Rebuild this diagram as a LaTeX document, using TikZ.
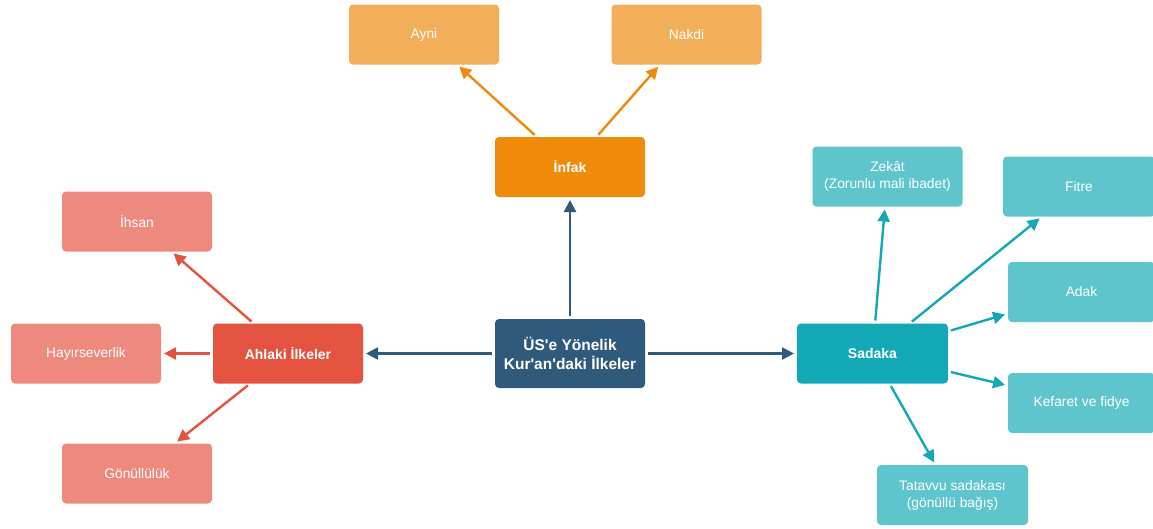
\documentclass[tikz,border=0pt]{standalone}
\usepackage{fontspec}
\setmainfont{Liberation Sans}
\usetikzlibrary{arrows.meta}

\definecolor{hubblue}{RGB}{47,90,123}
\definecolor{infakorange}{RGB}{239,138,10}
\definecolor{infaklight}{RGB}{243,174,90}
\definecolor{ahlakired}{RGB}{228,83,63}
\definecolor{ahlakilight}{RGB}{238,138,125}
\definecolor{sadakateal}{RGB}{18,168,182}
\definecolor{sadakalight}{RGB}{94,197,204}

\tikzset{
  box/.style={rectangle, rounded corners=4pt, minimum width=150pt, minimum height=60pt,
    text=white, align=center, inner sep=2pt, outer sep=0pt},
  mainbox/.style={box, font=\fontsize{14}{16}\selectfont\bfseries},
  leafbox/.style={box, font=\fontsize{13.8}{17}\selectfont},
  link/.style={line width=2.4pt, shorten <=3pt, shorten >=3pt,
    -{Triangle[length=12pt,width=12pt]}},
}

\begin{document}
\begin{tikzpicture}[x=1pt,y=-1pt]
\useasboundingbox[fill=white] (0,0) rectangle (1153,528);

% hub
\node[mainbox, fill=hubblue, minimum height=69pt, font=\fontsize{15.5}{19.5}\selectfont\bfseries]
  (hub) at (570,353.5) {ÜS\textquotesingle e Yönelik\\Kur\textquotesingle an\textquotesingle daki İlkeler};

% Infak branch
\node[mainbox, fill=infakorange] (infak) at (570,167) {İnfak};
\node[leafbox, fill=infaklight] (ayni) at (424,34.5) {Ayni};
\node[leafbox, fill=infaklight] (nakdi) at (686.5,34.5) {Nakdi};

% Ahlaki branch
\node[mainbox, fill=ahlakired] (ahlaki) at (288,353.5) {Ahlaki İlkeler};
\node[leafbox, fill=ahlakilight] (ihsan) at (137,221.5) {İhsan};
\node[leafbox, fill=ahlakilight] (hayir) at (86,353.5) {Hayırseverlik};
\node[leafbox, fill=ahlakilight] (gonul) at (137,473.5) {Gönüllülük};

% Sadaka branch
\node[mainbox, fill=sadakateal, minimum width=151pt] (sadaka) at (872.5,353.5) {Sadaka};
\node[leafbox, fill=sadakalight] (zekat) at (887.5,176.5) {Zekât\\(Zorunlu mali ibadet)};
\node[leafbox, fill=sadakalight, minimum width=152pt] (fitre) at (1079,186.5) {Fitre};
\node[leafbox, fill=sadakalight, minimum width=147pt] (adak) at (1081.5,292) {Adak};
\node[leafbox, fill=sadakalight, minimum width=147pt] (kefaret) at (1081.5,403) {Kefaret ve fidye};
\node[leafbox, fill=sadakalight, minimum width=151pt] (tatavvu) at (952.5,495) {Tatavvu sadakası\\(gönüllü bağış)};

% connectors
\draw[link, hubblue] (hub) -- (infak);
\draw[link, hubblue] (hub) -- (ahlaki);
\draw[link, hubblue] (hub) -- (sadaka);

\draw[link, infakorange] (infak) -- (ayni);
\draw[link, infakorange] (infak) -- (nakdi);

\draw[link, ahlakired] (ahlaki) -- (ihsan);
\draw[link, ahlakired] (ahlaki) -- (hayir);
\draw[link, ahlakired] (ahlaki) -- (gonul);

\draw[link, sadakateal] (sadaka) -- (zekat);
\draw[link, sadakateal] (sadaka) -- (fitre);
\draw[link, sadakateal] (sadaka) -- (adak);
\draw[link, sadakateal] (sadaka) -- (kefaret);
\draw[link, sadakateal] (sadaka) -- (tatavvu);
\end{tikzpicture}
\end{document}
